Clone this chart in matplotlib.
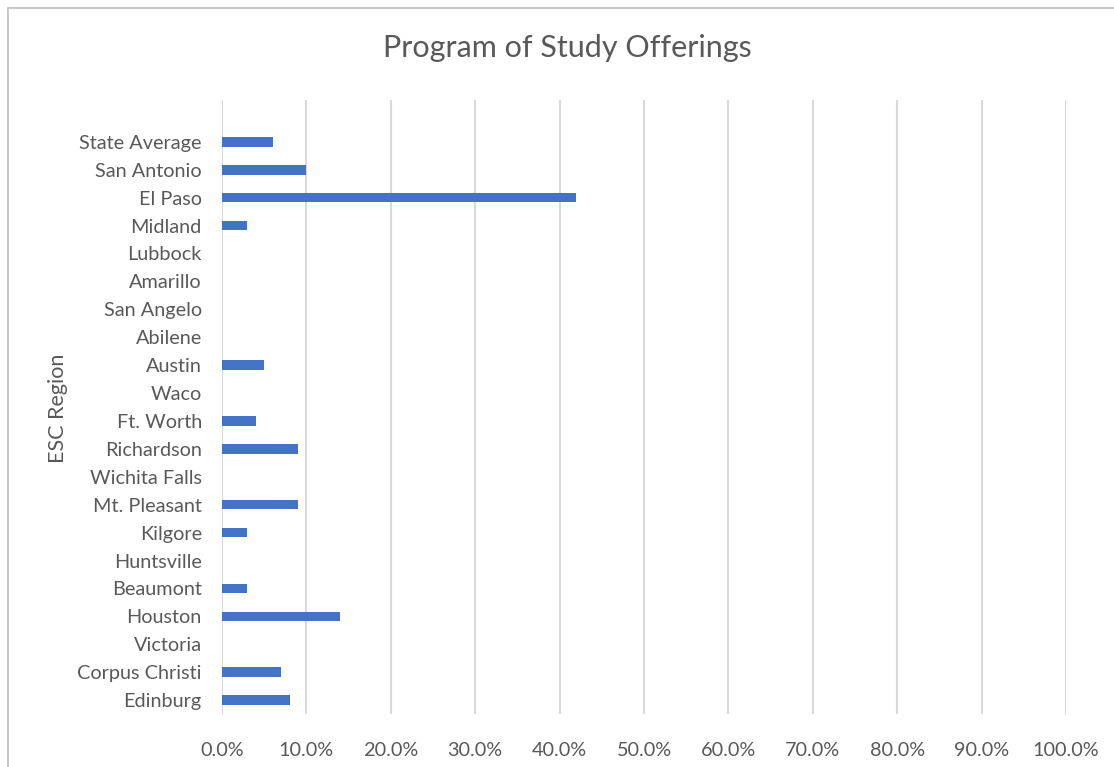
import matplotlib
matplotlib.use('Agg')
import matplotlib.pyplot as plt
from matplotlib.patches import Rectangle
from matplotlib.ticker import FuncFormatter

# Data (bottom to top as drawn)
regions = ['Edinburg', 'Corpus Christi', 'Victoria', 'Houston', 'Beaumont',
           'Huntsville', 'Kilgore', 'Mt. Pleasant', 'Wichita Falls', 'Richardson',
           'Ft. Worth', 'Waco', 'Austin', 'Abilene', 'San Angelo', 'Amarillo',
           'Lubbock', 'Midland', 'El Paso', 'San Antonio', 'State Average']
offerings = [0.08, 0.07, 0.0, 0.14, 0.03,
             0.0, 0.03, 0.09, 0.0, 0.09,
             0.04, 0.0, 0.05, 0.0, 0.0, 0.0,
             0.0, 0.03, 0.42, 0.10, 0.06]

TEXT = '#595959'
GRID = '#d9d9d9'
BAR = '#4472C4'

plt.rcParams['font.family'] = ['Lato', 'DejaVu Sans']

fig = plt.figure(figsize=(11.14, 7.67), dpi=100)
fig.patch.set_facecolor('white')

# chart-area border (only top and left visible in the crop)
fig.patches.append(Rectangle((8 / 1114, -0.1), 1.2, (767 - 8) / 767 + 0.1,
                             transform=fig.transFigure, fill=False,
                             edgecolor='#bfbfbf', linewidth=1.2))

ax = fig.add_axes([222 / 1114, 1 - 714 / 767, 844 / 1114, 614 / 767])

ypos = list(range(len(regions)))
ax.barh(ypos, offerings, height=0.34, color=BAR, zorder=3)

ax.set_xlim(0, 1.0)
ax.set_ylim(-0.5, len(regions) + 0.5)
ax.set_xticks([i / 10 for i in range(11)])
ax.xaxis.set_major_formatter(FuncFormatter(lambda v, p: f'{v * 100:.1f}%'))
ax.set_yticks(ypos)
ax.set_yticklabels(regions)

ax.grid(axis='x', color=GRID, linewidth=1.5, zorder=0)
for s in ax.spines.values():
    s.set_visible(False)
ax.tick_params(axis='both', length=0, colors=TEXT, labelsize=14.3)
ax.tick_params(axis='x', pad=20)
ax.tick_params(axis='y', pad=14.5)

fig.text(58 / 1114, 1 - 408 / 767, 'ESC Region', rotation=90, ha='center',
         va='center', color=TEXT, fontsize=15.5)
fig.text(567 / 1114, 1 - 48 / 767, 'Program of Study Offerings', ha='center',
         va='center', color=TEXT, fontsize=22)

fig.savefig('out.png', dpi=100, facecolor='white')
